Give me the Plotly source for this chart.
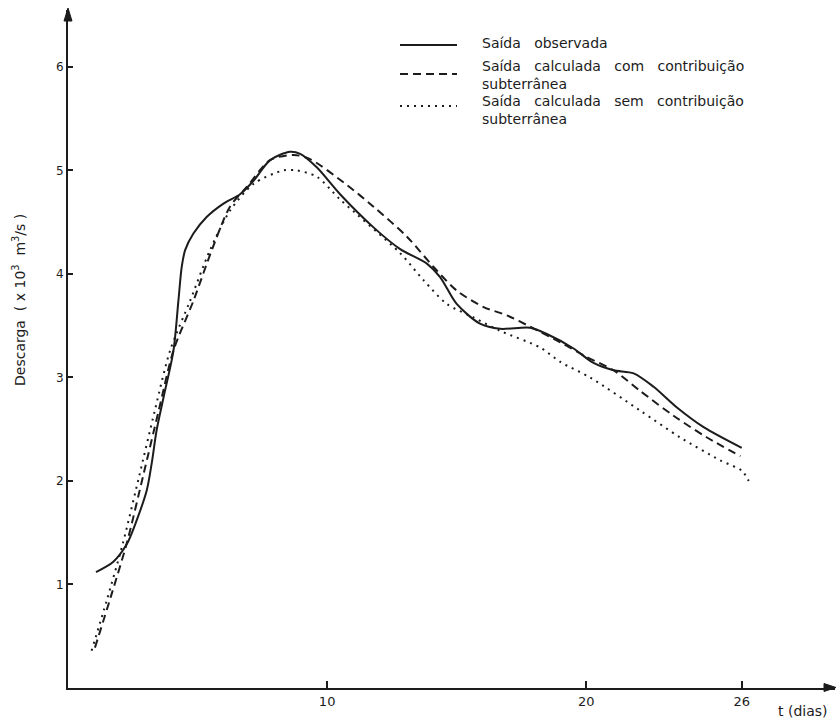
import plotly.graph_objects as go

# ---- data (t in days, discharge in 10^3 m3/s) ----
t_obs = [1.08, 1.75, 2.27, 2.65, 3.04, 3.23, 3.42, 3.68, 4.07, 4.26, 4.39, 4.52, 4.84, 5.35, 6.0, 6.64,
         7.16, 7.8, 8.57, 8.96, 9.6, 10.5, 11.79, 12.82, 13.85, 14.36, 15.0, 15.9, 16.68, 17.84,
         18.48, 19.51, 20.28, 21.05, 21.83, 22.6, 23.5, 24.53, 26.0]
q_obs = [1.12, 1.22, 1.39, 1.62, 1.91, 2.17, 2.49, 2.80, 3.26, 3.74, 4.07, 4.23, 4.39, 4.55, 4.68, 4.77,
         4.90, 5.10, 5.18, 5.16, 5.03, 4.77, 4.45, 4.24, 4.10, 3.97, 3.71, 3.52, 3.47, 3.48,
         3.42, 3.28, 3.14, 3.07, 3.04, 2.91, 2.71, 2.52, 2.32]

t_com = [1.04, 1.65, 2.27, 2.9, 3.5, 4.07, 4.84, 5.55, 6.25, 6.9, 7.8, 8.7, 9.34, 10.76,
         11.79, 13.08, 14.1, 15.0, 16.04, 16.94, 17.84, 19.0, 20.0, 21.05, 22.08, 23.37, 24.66, 25.95]
q_com = [0.39, 0.88, 1.40, 2.05, 2.68, 3.26, 3.74, 4.23, 4.65, 4.84, 5.10, 5.15, 5.11, 4.86,
         4.65, 4.36, 4.07, 3.84, 3.68, 3.60, 3.49, 3.34, 3.20, 3.07, 2.87, 2.63, 2.42, 2.24]

t_sem = [0.91, 1.5, 2.12, 2.75, 3.35, 3.94, 4.71, 5.48, 6.25, 7.16, 8.31, 8.83, 9.6, 10.5, 12.82,
         13.72, 14.62, 15.65, 16.68, 18.22, 19.0, 20.15, 22.08, 23.63, 25.17, 26.0, 26.27]
q_sem = [0.36, 0.85, 1.40, 2.05, 2.68, 3.26, 3.74, 4.23, 4.61, 4.87, 5.0, 5.0, 4.94, 4.72, 4.2,
         3.94, 3.71, 3.58, 3.45, 3.29, 3.15, 3.0, 2.68, 2.42, 2.2, 2.1, 2.0]

x_ticks = [10, 20, 26]
y_ticks = [1, 2, 3, 4, 5, 6]

legend_lines = [["Saída observada"],
                ["Saída calculada com contribuição", "subterrânea"],
                ["Saída calculada sem contribuição", "subterrânea"]]

INK = "#1c1c1c"
FONT = "DejaVu Sans"
dashes = ["solid", "8px,5px", "2px,5px"]

fig = go.Figure()
for (tx, qy, ds) in [(t_obs, q_obs, dashes[0]),
                     (t_com, q_com, dashes[1]),
                     (t_sem, q_sem, dashes[2])]:
    fig.add_trace(go.Scatter(x=tx, y=qy, mode="lines", showlegend=False, hoverinfo="skip",
                             line=dict(color=INK, width=2, dash=ds, shape="spline", smoothing=0.8)))

X0, X1 = 0, 29.6
Y0, Y1 = 0, 6.55
L, R, T, B = 68, 4, 10, 34
W, H = 839, 722
pw = W - L - R
ph = H - T - B

fig.update_layout(
    width=W, height=H,
    margin=dict(l=L, r=R, t=T, b=B, autoexpand=False),
    paper_bgcolor="white", plot_bgcolor="white",
    font=dict(family=FONT, color=INK, size=13),
    xaxis=dict(range=[X0, X1], tickvals=x_ticks, ticktext=[str(v) for v in x_ticks],
               showgrid=False, zeroline=False, showline=True, linecolor=INK, linewidth=2,
               ticks="inside", ticklen=7, tickwidth=1.5, tickcolor=INK, automargin=False,
               tickfont=dict(size=13, family=FONT, color=INK)),
    yaxis=dict(range=[Y0, Y1], tickvals=y_ticks, ticktext=[str(v) for v in y_ticks],
               showgrid=False, zeroline=False, showline=True, linecolor=INK, linewidth=2,
               ticks="inside", ticklen=5, tickwidth=1.5, tickcolor=INK, automargin=False,
               tickfont=dict(size=12, family=FONT, color=INK)),
)


def pp(px, py):
    return (px - L) / pw, (H - B - py) / ph


# axis arrowheads (filled triangles)
a1 = pp(836, 687.5); a2 = pp(824, 683.5); a3 = pp(824, 691.5)
fig.add_shape(type="path", xref="paper", yref="paper",
              path=f"M {a1[0]} {a1[1]} L {a2[0]} {a2[1]} L {a3[0]} {a3[1]} Z",
              fillcolor=INK, line=dict(color=INK, width=1))
b1 = pp(68, 8); b2 = pp(64, 21); b3 = pp(72, 21)
fig.add_shape(type="path", xref="paper", yref="paper",
              path=f"M {b1[0]} {b1[1]} L {b2[0]} {b2[1]} L {b3[0]} {b3[1]} Z",
              fillcolor=INK, line=dict(color=INK, width=1))

# axis titles
ax_, ay_ = pp(19, 300)
fig.add_annotation(x=ax_, y=ay_, xref="paper", yref="paper", showarrow=False, textangle=-90,
                   xanchor="center", yanchor="middle",
                   text="Descarga  ( x 10<sup>3</sup>  m<sup>3</sup>/s )",
                   font=dict(size=14, family=FONT, color=INK))
tx_, ty_ = pp(803, 711)
fig.add_annotation(x=tx_, y=ty_, xref="paper", yref="paper", showarrow=False,
                   xanchor="center", yanchor="middle",
                   text="t (dias)", font=dict(size=14, family=FONT, color=INK))

# manual legend
legend_rows = [(45, 43), (74, 75.5), (106, 110.5)]
for i, (ly, ty) in enumerate(legend_rows):
    xa, ya = pp(400, ly)
    xb, _ = pp(457, ly)
    fig.add_shape(type="line", xref="paper", yref="paper", x0=xa, x1=xb, y0=ya, y1=ya,
                  line=dict(color=INK, width=2, dash=dashes[i]))
    xt, yt = pp(480, ty)
    txt = "<br>".join(s.replace(" ", "&nbsp;&nbsp; ") for s in legend_lines[i])
    fig.add_annotation(x=xt, y=yt, xref="paper", yref="paper", showarrow=False,
                       xanchor="left", yanchor="middle", align="left",
                       text=txt, font=dict(size=14, family=FONT, color=INK))

fig.write_html("out.html", config={"displayModeBar": False},
               post_script="document.body.style.margin='0';document.body.style.overflow='hidden';")
